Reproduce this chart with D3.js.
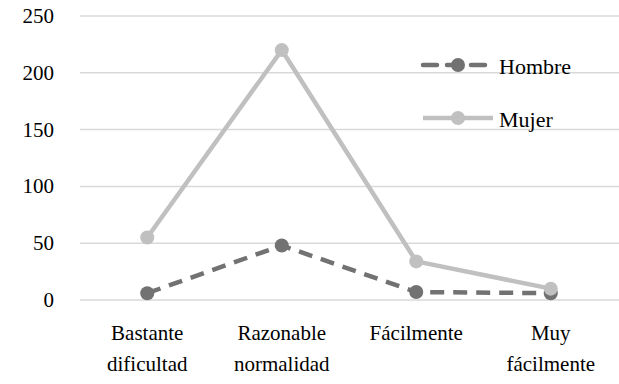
<!DOCTYPE html>
<html><head><meta charset="utf-8">
<script src="https://cdn.jsdelivr.net/npm/d3@7"></script>
<style>body{margin:0;background:#fff}</style>
</head><body>
<svg id="c" width="619" height="384" font-family="Liberation Serif, serif"></svg>
<script>
const categories = [["Bastante","dificultad"],["Razonable","normalidad"],["Fácilmente"],["Muy","fácilmente"]];
const hombre = [6, 48, 7, 6];
const mujer = [55, 220, 34, 10];
const yTicks = [0, 50, 100, 150, 200, 250];
const seriesNames = ["Hombre", "Mujer"];

const svg = d3.select("#c");
const x = d3.scaleBand().domain(d3.range(categories.length)).range([80, 618]);
const y = d3.scaleLinear().domain([0, 250]).range([300, 16]);

svg.append("g").selectAll("line").data(yTicks).join("line")
  .attr("x1", 80).attr("x2", 619).attr("y1", d => y(d)).attr("y2", d => y(d))
  .attr("stroke", "#d9d9d9").attr("stroke-width", 1.5);

svg.append("g").selectAll("text").data(yTicks).join("text")
  .attr("x", 54).attr("y", d => y(d) + 7).attr("text-anchor", "end")
  .style("font-family", "'Liberation Serif'").attr("font-size", 21)
  .text(d => d);

const cx = i => x(i) + x.bandwidth() / 2;
const catG = svg.append("g");
categories.forEach((lines, i) => {
  lines.forEach((t, j) => {
    catG.append("text").attr("x", cx(i)).attr("y", 340 + j * 31)
      .attr("text-anchor", "middle").style("font-family", "'Liberation Serif'").attr("font-size", 21)
      .text(t);
  });
});

const styles = [
  {data: hombre, color: "#727272", dash: "14,9"},
  {data: mujer, color: "#c0c0c0", dash: null}
];
const line = d3.line().x((d, i) => cx(i)).y(d => y(d));
styles.forEach(s => {
  svg.append("path").datum(s.data).attr("d", line).attr("fill", "none")
    .attr("stroke", s.color).attr("stroke-width", 4.5)
    .attr("stroke-dasharray", s.dash).attr("stroke-linejoin", "round");
  svg.append("g").selectAll("circle").data(s.data).join("circle")
    .attr("cx", (d, i) => cx(i)).attr("cy", d => y(d)).attr("r", 7)
    .attr("fill", s.color);
});

// legend
styles.forEach((s, k) => {
  const ly = 65 + k * 53;
  svg.append("line").attr("x1", 423).attr("x2", 493).attr("y1", ly).attr("y2", ly)
    .attr("stroke", s.color).attr("stroke-width", 4.5).attr("stroke-dasharray", s.dash ? "14,10" : null)
    .attr("stroke-linecap", s.dash ? "round" : "butt");
  svg.append("circle").attr("cx", 458).attr("cy", ly).attr("r", 7).attr("fill", s.color);
  svg.append("text").attr("x", 499).attr("y", ly + 9)
    .style("font-family", "'Liberation Serif'").attr("font-size", 22).text(seriesNames[k]);
});
</script>
</body></html>
